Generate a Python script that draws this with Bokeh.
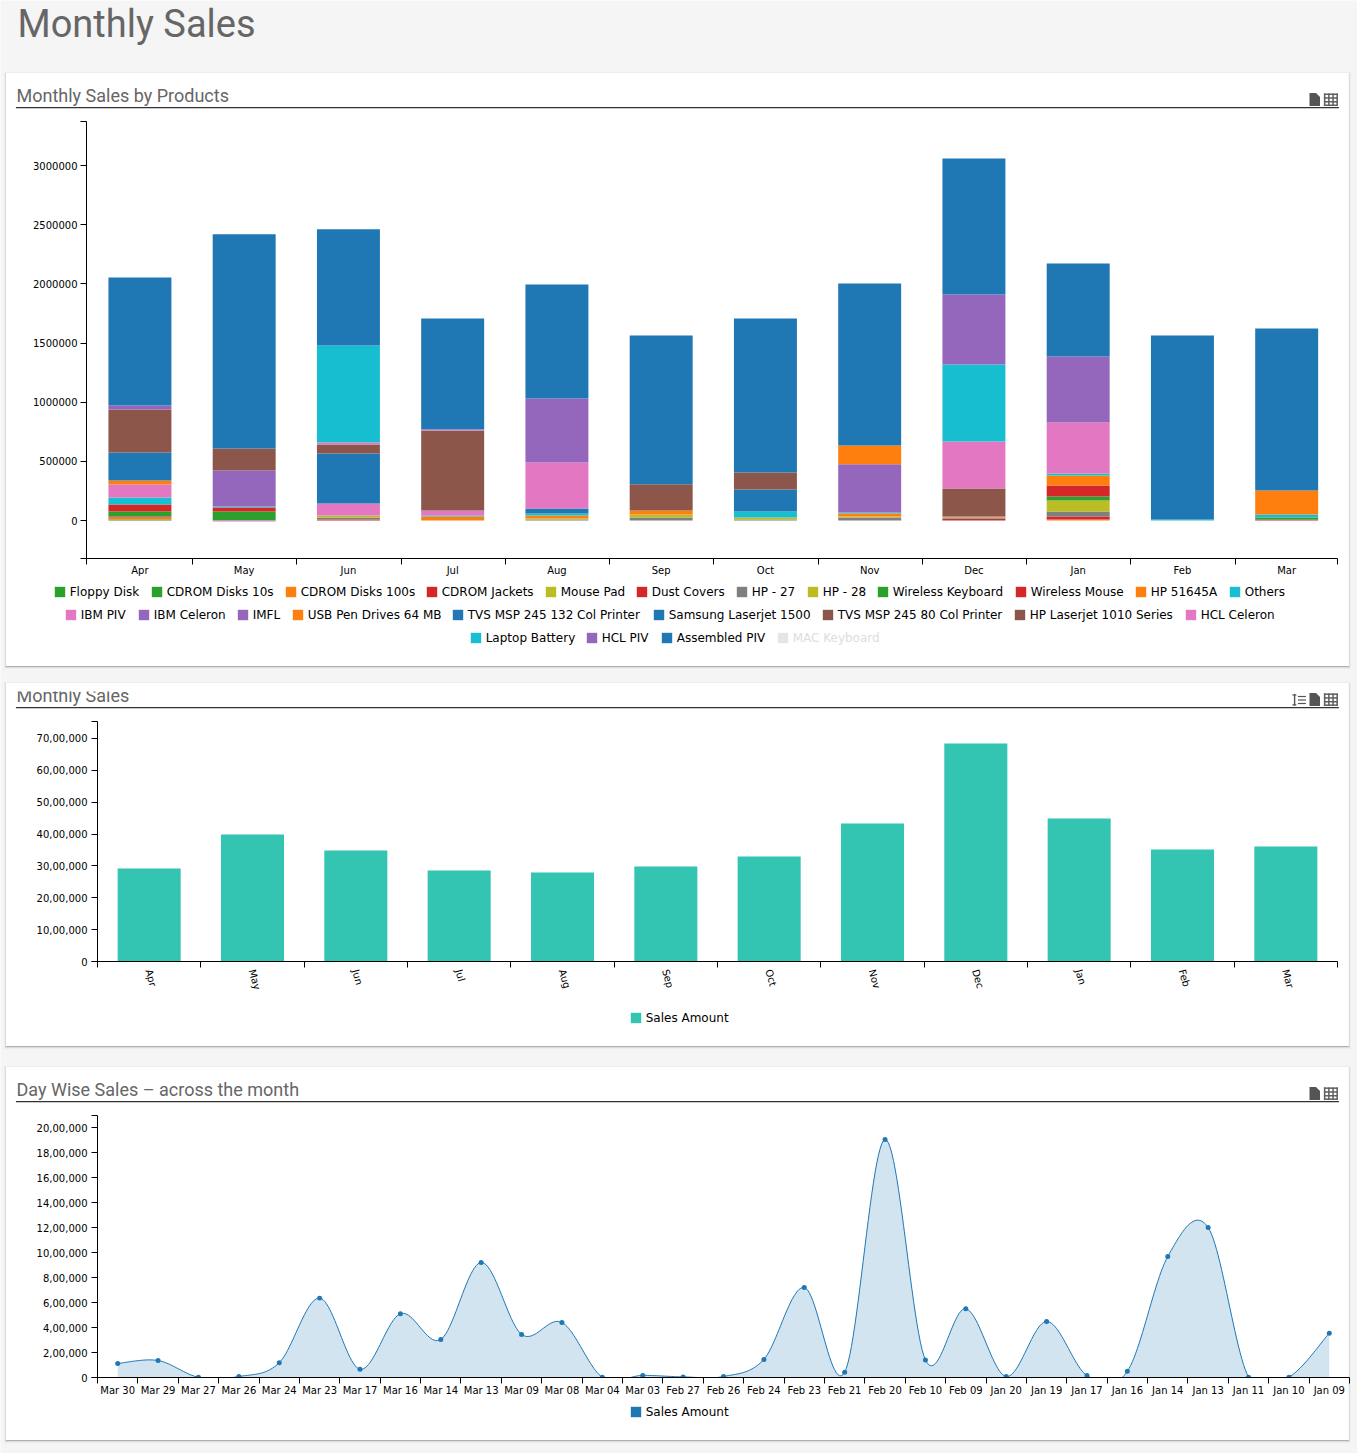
import numpy as np
from bokeh.plotting import figure
from bokeh.embed import file_html
from bokeh.resources import INLINE
from bokeh.models import (BoxAnnotation, PolyAnnotation, Label, Legend, LegendItem,
                          FixedTicker, Range1d)

# ---------- data ----------
months = ["Apr", "May", "Jun", "Jul", "Aug", "Sep", "Oct", "Nov", "Dec", "Jan", "Feb", "Mar"]

product_names = ["Floppy Disk", "CDROM Disks 10s", "CDROM Disks 100s", "CDROM Jackets", "Mouse Pad",
                 "Dust Covers", "HP - 27", "HP - 28", "Wireless Keyboard", "Wireless Mouse", "HP 51645A",
                 "Others", "IBM PIV", "IBM Celeron", "IMFL", "USB Pen Drives 64 MB",
                 "TVS MSP 245 132 Col Printer", "Samsung Laserjet 1500", "TVS MSP 245 80 Col Printer",
                 "HP Laserjet 1010 Series", "HCL Celeron", "Laptop Battery", "HCL PIV", "Assembled PIV"]
product_colors = ["#2ca02c", "#2ca02c", "#ff7f0e", "#d62728", "#bcbd22", "#d62728", "#7f7f7f", "#bcbd22",
                  "#2ca02c", "#d62728", "#ff7f0e", "#17becf", "#e377c2", "#9467bd", "#9467bd", "#ff7f0e",
                  "#1f77b4", "#1f77b4", "#8c564b", "#8c564b", "#e377c2", "#17becf", "#9467bd", "#1f77b4"]

floppy_disk   = [8500, 0, 0, 0, 0, 0, 0, 0, 0, 0, 0, 0]
cdrom_10s     = [0, 76000, 0, 0, 0, 0, 0, 0, 0, 0, 0, 0]
cdrom_100s    = [17000, 0, 0, 34000, 0, 0, 0, 0, 0, 8500, 0, 0]
cdrom_jackets = [8500, 0, 0, 0, 0, 0, 0, 0, 0, 25000, 0, 0]
mouse_pad     = [0, 0, 0, 0, 0, 0, 0, 0, 0, 0, 0, 0]
dust_covers   = [0, 0, 8500, 0, 0, 0, 0, 0, 17000, 0, 0, 8500]
hp_27         = [0, 0, 17000, 0, 8500, 25000, 8500, 25000, 0, 42000, 0, 0]
hp_28         = [0, 0, 17000, 0, 8500, 25000, 17000, 8500, 0, 93000, 0, 0]
wireless_kb   = [42000, 0, 0, 0, 0, 0, 0, 0, 0, 34000, 0, 17000]
wireless_ms   = [59000, 34000, 0, 0, 0, 0, 0, 0, 0, 93000, 0, 0]
hp_51645a     = [0, 0, 0, 0, 25000, 34000, 0, 25000, 0, 85000, 0, 0]
others        = [59000, 8500, 0, 8500, 17000, 0, 51000, 8500, 8500, 17000, 8500, 25000]
ibm_piv       = [110000, -8000, 101000, 42000, 0, 0, 0, 0, 0, 431000, 0, 0]
ibm_celeron   = [0, 304000, 0, 0, 0, 0, 0, 408000, 0, 558000, 0, 0]
imfl          = [0, 0, 0, 0, 0, 0, 0, 0, 0, 0, 0, 0]
usb_drives    = [34000, 0, 0, 0, 0, 0, 0, 158000, 8500, 0, 0, 203000]
tvs_132       = [237000, 0, 423000, 0, 42000, 0, 186000, 0, 0, 0, 0, 0]
samsung_1500  = [0, 0, 0, 0, 0, 0, 0, 0, 0, 0, 0, 0]
tvs_80        = [363000, 186000, 76000, 676000, 0, 222000, 144000, 0, 237000, 0, 0, 0]
hp_1010       = [0, 0, 0, 0, 0, 0, 0, 0, 0, 0, 0, 0]
hcl_celeron   = [0, 0, 17000, 8500, 389000, 0, 0, 0, 397000, 0, 0, 0]
laptop_batt   = [0, 0, 820000, 0, 0, 0, 0, 0, 651000, 0, 0, 0]
hcl_piv       = [34000, 0, 0, 0, 541000, 0, 0, 0, 591000, 0, 0, 0]
assembled_piv = [1082000, 1810000, 981000, 938000, 964000, 1257000, 1301000, 1369000, 1150000, 786000, 1555500, 1369000]
product_values = [floppy_disk, cdrom_10s, cdrom_100s, cdrom_jackets, mouse_pad, dust_covers, hp_27, hp_28,
                  wireless_kb, wireless_ms, hp_51645a, others, ibm_piv, ibm_celeron, imfl, usb_drives,
                  tvs_132, samsung_1500, tvs_80, hp_1010, hcl_celeron, laptop_batt, hcl_piv, assembled_piv]

monthly_sales = [2919000, 3987000, 3484000, 2857000, 2794000, 2982000, 3296000, 4332000, 6843000, 4489000, 3516000, 3610000]

days = ["Mar 30", "Mar 29", "Mar 27", "Mar 26", "Mar 24", "Mar 23", "Mar 17", "Mar 16", "Mar 14", "Mar 13", "Mar 09",
        "Mar 08", "Mar 04", "Mar 03", "Feb 27", "Feb 26", "Feb 24", "Feb 23", "Feb 21", "Feb 20", "Feb 10", "Feb 09",
        "Jan 20", "Jan 19", "Jan 17", "Jan 16", "Jan 14", "Jan 13", "Jan 11", "Jan 10", "Jan 09"]
day_sales = [112000, 136000, 2000, 8000, 118000, 635000, 66000, 510000, 305000, 920000, 345000,
             440000, 2000, 17000, 5000, 8000, 145000, 720000, 42000, 1904000, 141000, 550000,
             8000, 448000, 16000, 50000, 968000, 1200000, 3000, 3000, 355000]

product_ticks = [0, 500000, 1000000, 1500000, 2000000, 2500000, 3000000]
product_labels = ["0", "500000", "1000000", "1500000", "2000000", "2500000", "3000000"]
indian_ticks_m = [0, 1000000, 2000000, 3000000, 4000000, 5000000, 6000000, 7000000]
indian_labels_m = ["0", "10,00,000", "20,00,000", "30,00,000", "40,00,000", "50,00,000", "60,00,000", "70,00,000"]
indian_ticks_d = [0, 200000, 400000, 600000, 800000, 1000000, 1200000, 1400000, 1600000, 1800000, 2000000]
indian_labels_d = ["0", "2,00,000", "4,00,000", "6,00,000", "8,00,000", "10,00,000", "12,00,000", "14,00,000",
                   "16,00,000", "18,00,000", "20,00,000"]

PAGE = "#f5f5f5"
TXT = "#666666"
FONT = "DejaVu Sans"
W, H = 1357, 1453
NUDGE = 0.6


def box(p, l, t, r, b, color, level="annotation", alpha=1.0):
    p.add_layout(BoxAnnotation(left=l - NUDGE, right=r - NUDGE, top=t - NUDGE, bottom=b - NUDGE,
                               left_units="canvas", right_units="canvas",
                               top_units="canvas", bottom_units="canvas", fill_color=color, fill_alpha=alpha,
                               line_color=None, level=level))


def card(p, l, t, r, b):
    box(p, l - 2, t - 1, r + 2, b + 3, "#000000", "underlay", 0.03)
    box(p, l - 1, t, r + 1, b + 2, "#000000", "underlay", 0.07)
    box(p, l, t, r, b + 1, "#000000", "underlay", 0.20)
    box(p, l, t, r, b, "#ffffff", "underlay")


def heading(p, text, x, base, rule_y, size="18px"):
    p.add_layout(Label(x=x, y=base, x_units="canvas", y_units="canvas", text=text, text_font="Roboto",
                       text_font_size=size, text_color=TXT, text_baseline="alphabetic"))
    if rule_y is not None:
        box(p, 16, rule_y, 1339, rule_y + 1.4, "#333333")


def icons(p, y, sort=False):
    yi = y - NUDGE
    p.add_layout(PolyAnnotation(xs=[1309, 1315.5, 1319.5, 1319.5, 1309], ys=[yi, yi, yi + 4, yi + 13, yi + 13],
                                xs_units="canvas", ys_units="canvas", fill_color="#555555", fill_alpha=1,
                                line_color=None))
    x0, x1, y0, y1 = 1324, 1338, y + 0.5, y + 13
    for xx in [x0, x0 + 4.2, x0 + 8.4, x1 - 1.5]:
        box(p, xx, y0, xx + 1.5, y1, "#5f5f5f")
    for yy in [y0, y0 + 3.8, y0 + 7.6, y1 - 1.5]:
        box(p, x0, yy, x1, yy + 1.5, "#5f5f5f")
    if sort:
        box(p, 1294, y + 1, 1295.4, y + 13, "#555555")
        box(p, 1292.5, y + 1.5, 1296.5, y + 2.7, "#555555")
        box(p, 1292.5, y + 11.3, 1296.5, y + 12.5, "#555555")
        for yy in [y + 3, y + 6.5, y + 10]:
            box(p, 1298, yy, 1306, yy + 1.2, "#555555")


def base_fig(page_top, h, left, right, top, bottom, xr, yr):
    p = figure(width=W, height=h, output_backend="svg", toolbar_location=None,
               x_range=Range1d(*xr), y_range=Range1d(*yr), min_border_left=left, min_border_right=right,
               min_border_top=top, min_border_bottom=bottom, border_fill_color=None,
               background_fill_color=None, outline_line_color=None,
               styles={"position": "absolute", "left": "0px", "top": f"{page_top}px"})
    p.grid.visible = False
    return p


def style_axes(p, labels, yticks, ylabels, yrange, y_standoff, x_standoff, orientation=None,
               label_shift=0.0, tick_shift=0.0):
    n = len(labels)
    xa, ya = p.xaxis[0], p.yaxis[0]
    centers = [i + 0.5 + label_shift for i in range(n)]
    edges = [0] + [i + tick_shift for i in range(1, n)] + [n]
    xa.ticker = FixedTicker(ticks=centers, minor_ticks=edges)
    xa.major_label_overrides = {c: l for c, l in zip(centers, labels)}
    xa.major_tick_out = 0
    xa.major_tick_in = 0
    xa.minor_tick_out = 6
    xa.minor_tick_in = 0
    xa.minor_tick_line_color = "#000000"
    xa.major_label_standoff = x_standoff
    ya.ticker = FixedTicker(ticks=yticks, minor_ticks=list(yrange))
    ya.major_label_overrides = {t: l for t, l in zip(yticks, ylabels)}
    ya.major_tick_out = 6
    ya.major_tick_in = 0
    ya.minor_tick_out = 6
    ya.minor_tick_in = 0
    ya.minor_tick_line_color = "#000000"
    ya.major_label_standoff = y_standoff
    for a in (xa, ya):
        a.axis_line_color = "#000000"
        a.major_tick_line_color = "#000000"
        a.major_label_text_font = FONT
        a.major_label_text_font_size = "10px"
        a.major_label_text_color = "#000000"
    xa.major_label_orientation = orientation if orientation is not None else "horizontal"


# ---------- page background with the cards, headings and legends ----------
bg = figure(width=W, height=H, output_backend="svg", toolbar_location=None,
            x_range=Range1d(0, W), y_range=Range1d(H, 0), min_border=0, x_axis_location=None,
            y_axis_location=None, border_fill_color=PAGE, background_fill_color=PAGE,
            outline_line_color=None, styles={"position": "absolute", "left": "0px", "top": "0px"})
bg.grid.visible = False
card(bg, 6, 73, 1349, 666)
card(bg, 6, 683, 1349, 1046)
card(bg, 6, 1067, 1349, 1440)
heading(bg, "Monthly Sales", 17, 23, None, "38px")
heading(bg, "Monthly Sales by Products", 16, 94.5, 107)
heading(bg, "Monthly Sales", 16, 694.5, 707)
box(bg, 10, 683, 400, 691.5, "#ffffff")
heading(bg, "Day Wise Sales \u2013 across the month", 16, 1088.5, 1101)
icons(bg, 93)
icons(bg, 693, sort=True)
icons(bg, 1087)


def legend_item(name, color, x, cy, text_color="#000000"):
    r = bg.vbar(x=[0], width=0, bottom=[0], top=[0], fill_color=color, line_color=None)
    lg = Legend(items=[LegendItem(label=name, renderers=[r])], orientation="horizontal",
                location=(x - 1.3, H - cy - 6.5), padding=0, margin=0, spacing=0, glyph_width=13, glyph_height=13,
                label_standoff=4, label_text_font=FONT, label_text_font_size="12px", label_text_color=text_color,
                border_line_color=None, background_fill_alpha=0, label_height=13)
    bg.add_layout(lg, "center")


legend_x = [54, 151, 285, 426, 545, 636, 736, 807, 877, 1015, 1135, 1229,
            65, 138, 237, 292, 452, 653, 822, 1014, 1185,
            470, 586, 661]
legend_y = [592] * 12 + [615] * 9 + [638] * 3
for n, c, lx, ly in zip(product_names, product_colors, legend_x, legend_y):
    legend_item(n, c, lx, ly)
legend_item("MAC Keyboard", "#e5e5e5", 777, 638, "#dddddd")
legend_item("Sales Amount", "#33c4b2", 630, 1018)
legend_item("Sales Amount", "#1f77b4", 630, 1412)

# ---------- chart 1 ----------
y1_range = (-321000, 3372000)
p1 = base_fig(100, 490, 86, 20, 21, 32, (0, 12), y1_range)
style_axes(p1, months, product_ticks, product_labels, y1_range, 3, 0, label_shift=0.0125, tick_shift=0.019)
centers1 = np.arange(12) + 0.5125
pos = np.zeros(12)
neg = np.zeros(12)
for color, vals in zip(product_colors, product_values):
    v = np.array(vals, dtype=float)
    bottom = np.where(v >= 0, pos, neg)
    top = bottom + v
    pos = np.where(v >= 0, top, pos)
    neg = np.where(v < 0, top, neg)
    p1.vbar(x=centers1, width=0.604, bottom=bottom, top=top, fill_color=color, line_color=None)

# ---------- chart 2 ----------
y2_range = (0, 7533000)
p2 = base_fig(710, 311, 97, 20, 11, 60, (0, 12), y2_range)
style_axes(p2, months, indian_ticks_m, indian_labels_m, y2_range, 4, 2, -1.3, label_shift=-0.005)
p2.vbar(x=np.arange(12) + 0.5, width=0.61, top=monthly_sales, bottom=0, fill_color="#33c4b2", line_color=None)

# ---------- chart 3 ----------
y3_range = (0, 2096000)
p3 = base_fig(1105, 312, 97, 8, 10, 40, (0, 31), y3_range)
style_axes(p3, days, indian_ticks_d, indian_labels_d, y3_range, 4, 1)

# smooth curve through the read values (Catmull-Rom, as the chart draws it)
xd = np.arange(len(day_sales)) + 0.5
yd = np.array(day_sales, dtype=float)
cx, cy = [xd[0]], [yd[0]]
for i in range(len(xd) - 1):
    a0, a1 = max(i - 1, 0), min(i + 2, len(xd) - 1)
    c1x = xd[i] + (xd[i + 1] - xd[a0]) / 6
    c1y = yd[i] + (yd[i + 1] - yd[a0]) / 6
    c2x = xd[i + 1] - (xd[a1] - xd[i]) / 6
    c2y = yd[i + 1] - (yd[a1] - yd[i]) / 6
    t = np.linspace(0, 1, 25)[1:]
    cx.extend((1 - t) ** 3 * xd[i] + 3 * (1 - t) ** 2 * t * c1x + 3 * (1 - t) * t ** 2 * c2x + t ** 3 * xd[i + 1])
    cy.extend((1 - t) ** 3 * yd[i] + 3 * (1 - t) ** 2 * t * c1y + 3 * (1 - t) * t ** 2 * c2y + t ** 3 * yd[i + 1])
cx, cy = np.array(cx), np.array(cy)
p3.varea(x=cx, y1=np.zeros_like(cy), y2=cy, fill_color="#1f77b4", fill_alpha=0.2)
p3.line(x=cx, y=cy, line_color="#1f77b4", line_width=1)
p3.scatter(x=xd, y=yd, size=5, marker="circle", fill_color="#1f77b4", line_color="#1f77b4", line_width=0)

p = [bg, p1, p2, p3]
open("out.html", "w").write(file_html(p, INLINE))
